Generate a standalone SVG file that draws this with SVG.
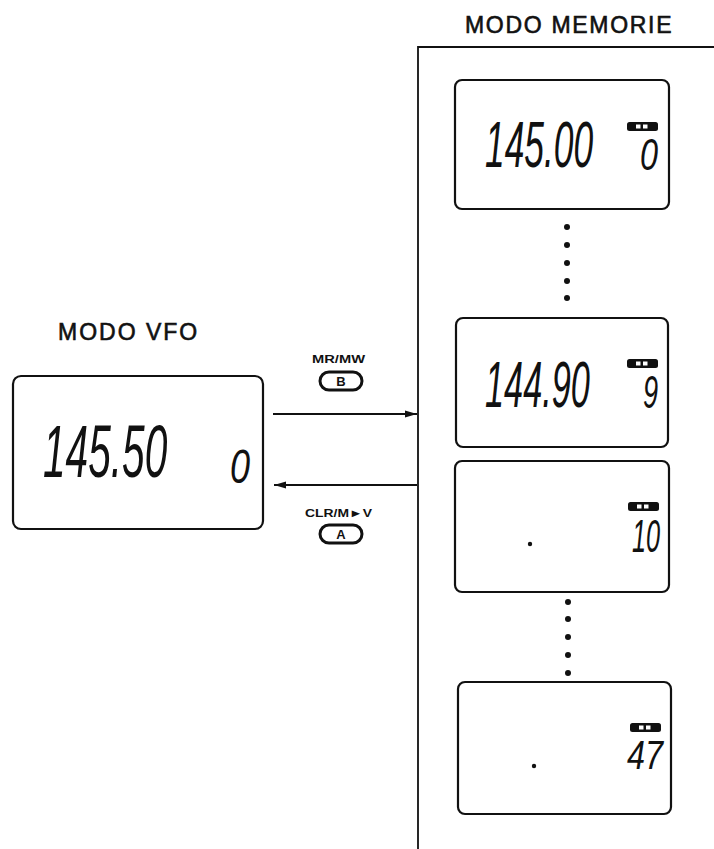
<svg xmlns="http://www.w3.org/2000/svg" width="714" height="849" viewBox="0 0 714 849">
<style>
.bg{fill:#ffffff}
.lcd{fill:#ffffff;stroke:#111;stroke-width:2.2}
.seg{font-family:"Liberation Sans",Arial,sans-serif;font-style:italic;fill:#111}
.title{font-family:"Liberation Sans",Arial,sans-serif;font-size:23px;fill:#111;stroke:#111;stroke-width:0.6}
.small{font-family:"Liberation Sans",Arial,sans-serif;font-weight:bold;font-size:11px;fill:#111}
.btn{fill:#fff;stroke:#111;stroke-width:3}
.btnt{font-family:"Liberation Sans",Arial,sans-serif;font-weight:bold;font-size:13px;fill:#111;text-anchor:middle}
.bat{fill:#111}
.batw{fill:#fff}
.dot{fill:#111}
.wire{stroke:#111;stroke-width:1.8;fill:none}
</style>
<defs>
<marker id="ah" viewBox="0 0 12 8" refX="12" refY="4" markerWidth="12" markerHeight="8" markerUnits="userSpaceOnUse" orient="auto">
<path d="M0,0.5 L12,4 L0,7.5 Z" fill="#111"/>
</marker>
<g id="battery">
<rect x="0" y="0" width="31" height="9" rx="2.5" class="bat"/>
<rect x="9" y="2.5" width="4.5" height="4" class="batw"/>
<rect x="16" y="2.5" width="4.5" height="4" class="batw"/>
</g>
</defs>
<rect class="bg" x="0" y="0" width="714" height="849"/>

<g id="vfo-label"><text class="title" x="58" y="340" letter-spacing="2">MODO VFO</text></g>
<g id="vfo-display">
<rect class="lcd" x="13" y="376" width="250" height="153" rx="8"/>
<text class="seg" transform="translate(43,477) scale(0.549,1)" font-size="74">145.50</text>
<text class="seg" transform="translate(230,483) scale(0.75,1)" font-size="48">0</text>
</g>

<g id="mem-label"><text class="title" x="465" y="33" letter-spacing="1.7">MODO MEMORIE</text></g>
<g id="mem-panel"><path class="wire" d="M418,849 V47 H714" stroke-width="2.2"/></g>

<g id="mem-0">
<rect class="lcd" x="455" y="80" width="214" height="129" rx="7"/>
<text class="seg" transform="translate(485,167) scale(0.544,1)" font-size="65">145.00</text>
<use href="#battery" x="627" y="122"/>
<text class="seg" transform="translate(640,170) scale(0.735,1)" font-size="44">0</text>
</g>

<g id="dots-1">
<circle class="dot" cx="567" cy="227" r="3"/>
<circle class="dot" cx="567" cy="245" r="3"/>
<circle class="dot" cx="567" cy="263" r="3"/>
<circle class="dot" cx="567" cy="281" r="3"/>
<circle class="dot" cx="567" cy="298" r="3"/>
</g>

<g id="mem-9">
<rect class="lcd" x="456" y="318" width="212" height="129" rx="7"/>
<text class="seg" transform="translate(485,407) scale(0.528,1)" font-size="65">144.90</text>
<use href="#battery" x="627" y="359"/>
<text class="seg" transform="translate(643,408) scale(0.59,1)" font-size="46">9</text>
</g>

<g id="mem-10">
<rect class="lcd" x="455" y="461" width="214" height="131" rx="7"/>
<circle class="dot" cx="530" cy="544" r="2.2"/>
<use href="#battery" x="628" y="502"/>
<text class="seg" transform="translate(632,552) scale(0.55,1)" font-size="46">10</text>
</g>

<g id="dots-2">
<circle class="dot" cx="568" cy="602" r="3"/>
<circle class="dot" cx="568" cy="619" r="3"/>
<circle class="dot" cx="568" cy="637" r="3"/>
<circle class="dot" cx="568" cy="655" r="3"/>
<circle class="dot" cx="568" cy="673" r="3"/>
</g>

<g id="mem-47">
<rect class="lcd" x="458" y="682" width="213" height="132" rx="7"/>
<circle class="dot" cx="534" cy="766" r="2.2"/>
<use href="#battery" x="630" y="723"/>
<text class="seg" transform="translate(627,769) scale(0.81,1)" font-size="40">47</text>
</g>

<g id="btn-B">
<text class="small" x="312" y="363" textLength="53" lengthAdjust="spacingAndGlyphs">MR/MW</text>
<rect class="btn" x="320" y="372" width="42" height="18" rx="9"/>
<text class="btnt" x="341" y="386">B</text>
</g>

<g id="btn-A">
<text class="small" x="305" y="517" textLength="67" lengthAdjust="spacingAndGlyphs">CLR/M►V</text>
<rect class="btn" x="320" y="525" width="42" height="18" rx="9"/>
<text class="btnt" x="341" y="539">A</text>
</g>

<g id="connectors">
<line class="wire" x1="273" y1="414" x2="417" y2="414" marker-end="url(#ah)"/>
<line class="wire" x1="417" y1="485" x2="274" y2="485" marker-end="url(#ah)"/>
</g>
</svg>
